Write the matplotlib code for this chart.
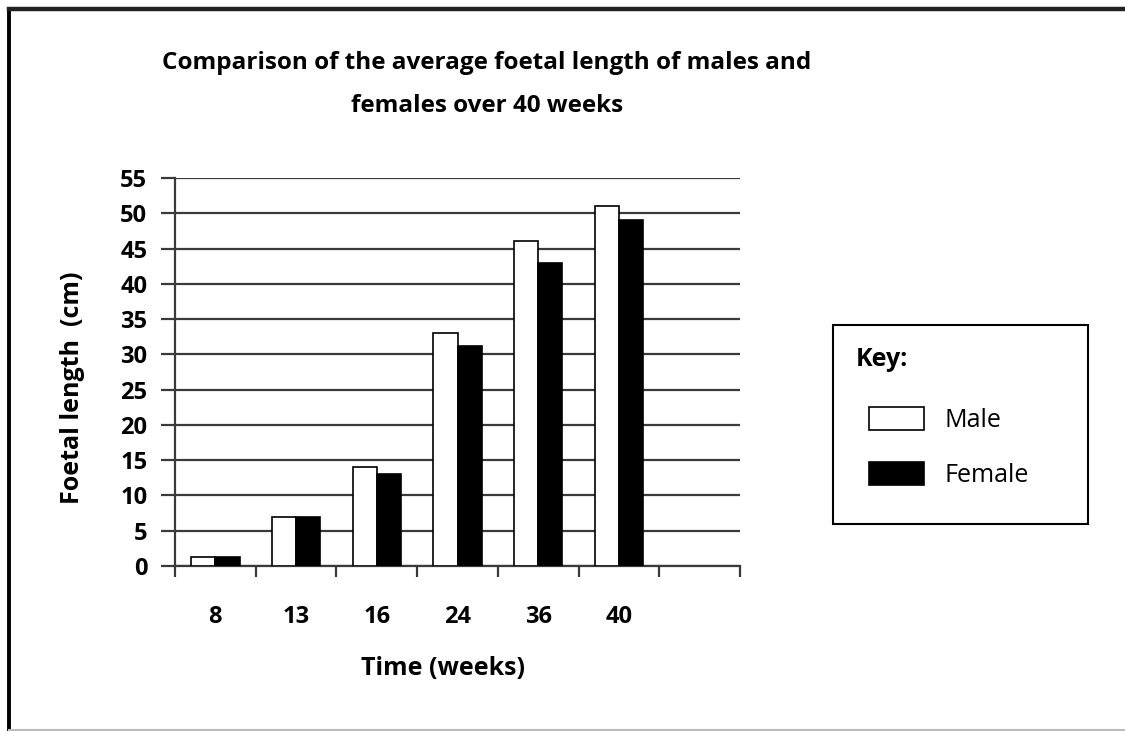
import matplotlib
matplotlib.use("Agg")
import matplotlib.pyplot as plt
import numpy as np
from matplotlib.patches import Patch
from matplotlib.lines import Line2D

weeks = ["8", "13", "16", "24", "36", "40"]
male = [1.3, 7, 14, 33, 46, 51]
female = [1.3, 7, 13, 31.2, 43, 49]

plt.rcParams['font.family'] = ['Open Sans', 'DejaVu Sans']
plt.rcParams['font.weight'] = 'bold'
plt.rcParams['axes.labelweight'] = 'bold'

fig = plt.figure(figsize=(11.25, 7.31), dpi=100)
ax = fig.add_axes([175/1125, 1-566/731, 565/1125, 388/731])

x = np.arange(len(weeks))
w = 0.3
gridc = '#3a3a3a'
fs = 17
ax.bar(x - w/2, male, w, color='white', edgecolor='black', linewidth=1.2, zorder=3)
ax.bar(x + w/2, female, w, color='black', edgecolor='black', linewidth=1.2, zorder=3)

# one empty slot on the right, like the original
ax.set_xlim(-0.5, len(weeks) + 0.5)
ax.set_ylim(0, 55)
ax.set_yticks(np.arange(0, 56, 5))
ax.yaxis.grid(True, color=gridc, linewidth=1.6)
ax.set_axisbelow(True)

# boundaries get the tick marks, centres get the labels
ax.set_xticks(np.arange(len(weeks) + 2) - 0.5)
ax.set_xticklabels([])
ax.set_xticks(x, minor=True)
ax.set_xticklabels(weeks, minor=True)
ax.tick_params(axis='x', which='major', length=8, width=1.6, color=gridc, direction='out')
ax.tick_params(axis='x', which='minor', length=0, pad=28, labelsize=fs)
ax.tick_params(axis='y', length=10, width=1.6, color=gridc, pad=10, labelsize=fs)

for s in ['top', 'right']:
    ax.spines[s].set_visible(False)
for s in ['left', 'bottom']:
    ax.spines[s].set_color(gridc)
    ax.spines[s].set_linewidth(1.6)

ax.set_ylabel("Foetal length  (cm)", fontsize=fs + 1, va='center')
ax.yaxis.set_label_coords(-0.182, 0.46)
ax.set_xlabel("Time (weeks)", fontsize=fs + 1)
ax.xaxis.set_label_coords(0.474, -0.263)
ax.xaxis.label.set_va('center')

fig.text(487/1125, 1-84.5/731, "Comparison of the average foetal length of males and\nfemales over 40 weeks",
         ha='center', va='center', fontsize=fs + 0.5, linespacing=2.05)

handles = [Patch(facecolor='white', edgecolor='black', linewidth=1.2),
           Patch(facecolor='black', edgecolor='black', linewidth=1.2)]
leg = fig.legend(handles, ["Male", "Female"], title="Key:",
                 loc='upper left', bbox_to_anchor=(833/1125, 1-325/731-0.01, 255/1125, 0.01),
                 mode='expand', borderaxespad=0, fancybox=False, edgecolor='black', framealpha=1,
                 prop={'size': 18, 'weight': 'normal'},
                 title_fontproperties={'weight': 'bold', 'size': 18},
                 handlelength=2.2, handleheight=1.0, handletextpad=0.8,
                 labelspacing=1.17, borderpad=0.9, alignment='left')
leg.get_frame().set_linewidth(1.5)
# entries sit a little further in than "Key:"
leg._legend_handle_box.pad = 10
leg._legend_box.sep = 15

# outer frame of the picture
fig.add_artist(Line2D([9/1125, 9/1125], [0, 1-9/731], color='black', linewidth=2.8, transform=fig.transFigure))
fig.add_artist(Line2D([9/1125, 1], [1-9/731, 1-9/731], color='#222222', linewidth=3.2, transform=fig.transFigure))
fig.add_artist(Line2D([9/1125, 1], [1/731, 1/731], color='#bbbbbb', linewidth=1.5, transform=fig.transFigure))

fig.savefig("out.png", dpi=100)
